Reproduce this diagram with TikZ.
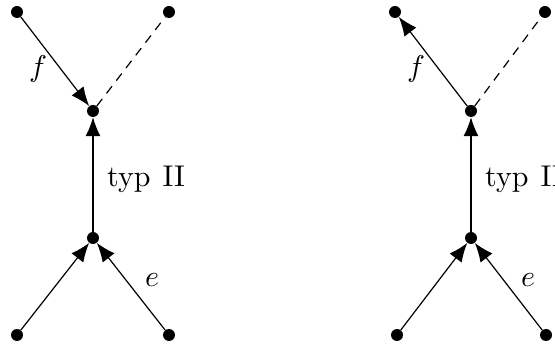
\documentclass[tikz,border=0pt]{standalone}
\usepackage{graphicx}
\usetikzlibrary{arrows.meta}
\newcommand{\lblsize}[1]{\scalebox{3.0}{#1}}
\begin{document}
\begin{tikzpicture}[x=1pt,y=-1pt,
  dot/.style={circle,fill,inner sep=0pt,minimum size=12pt},
  link/.style={line width=1.2pt},
  arr/.style={link,-{Latex[length=19pt,width=15pt]}},
  dashlink/.style={link,dash pattern=on 9pt off 7pt},
  lbl/.style={inner sep=0pt}]
\useasboundingbox (0,0) rectangle (555,347);
% left diagram
\node[dot] (tl1) at (17,12) {};
\node[dot] (tr1) at (169,12) {};
\node[dot] (u1)  at (93,111) {};
\node[dot] (m1)  at (93,238) {};
\node[dot] (bl1) at (17,335) {};
\node[dot] (br1) at (169,335) {};
\draw[arr] (tl1) -- (u1);
\draw[dashlink] (u1) -- (tr1);
\draw[arr] (m1) -- (u1);
\draw[arr] (bl1) -- (m1);
\draw[arr] (br1) -- (m1);
\node[lbl] (f1) at (38,69) {\lblsize{$f$}};
\node[lbl,anchor=base west] (t1) at (107,187) {\lblsize{typ\hspace{0.4em}II}};
\node[lbl] (e1) at (152,280) {\lblsize{$e$}};
% right diagram
\node[dot] (tl2) at (395,12) {};
\node[dot] (tr2) at (545,12) {};
\node[dot] (u2)  at (471,111) {};
\node[dot] (m2)  at (471,238) {};
\node[dot] (bl2) at (397,335) {};
\node[dot] (br2) at (546,335) {};
\draw[arr] (u2) -- (tl2);
\draw[dashlink] (u2) -- (tr2);
\draw[arr] (m2) -- (u2);
\draw[arr] (bl2) -- (m2);
\draw[arr] (br2) -- (m2);
\node[lbl] (f2) at (416,69) {\lblsize{$f$}};
\node[lbl,anchor=base west] (t2) at (485,187) {\lblsize{typ\hspace{0.4em}II}};
\node[lbl] (e2) at (528,280) {\lblsize{$e$}};
\end{tikzpicture}
\end{document}
